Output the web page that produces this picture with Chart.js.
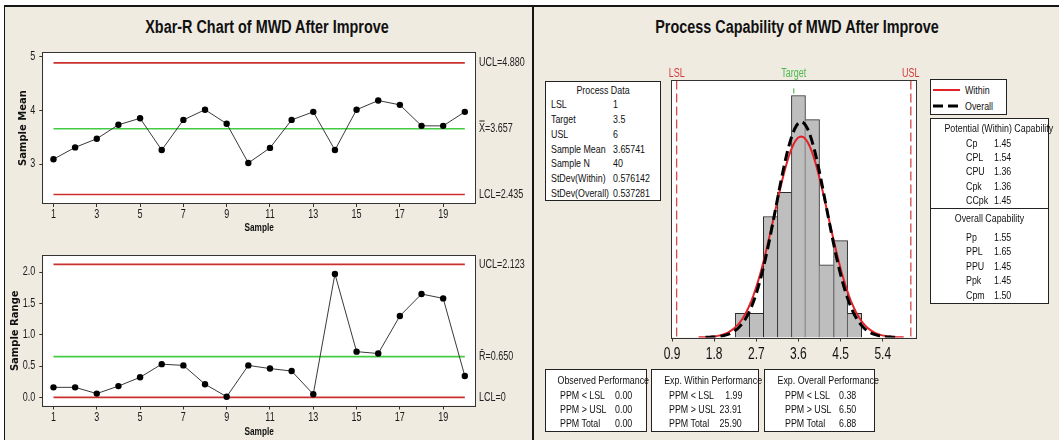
<!DOCTYPE html>
<html>
<head>
<meta charset="utf-8">
<script src="https://cdn.jsdelivr.net/npm/chart.js@4.4.1/dist/chart.umd.min.js"></script>
<style>
  html, body { margin: 0; padding: 0; background: #fff; }
  #page { position: relative; width: 1059px; height: 440px; overflow: hidden; background: #fff; }
  #frame { position: absolute; left: 4px; top: 5px; width: 1055px; height: 435px; background: #EFEBE1;
           border-top: 2px solid #151515; border-left: 1px solid #151515; box-sizing: border-box; }
  #divider { position: absolute; left: 532px; top: 5px; width: 2px; height: 435px; background: #151515; z-index: 5; }
  canvas { position: absolute; }
  .title { position: absolute; transform: translate(-50%, -50%) scaleX(0.8); white-space: nowrap; color: #111;
           font: bold 18px 'Liberation Sans', Arial, sans-serif; }
  .box { position: absolute; box-sizing: border-box; border: 1px solid #222; background: #fff; color: #111;
         font: 11.5px 'Liberation Sans', Arial, sans-serif; }
  .box .r { position: absolute; white-space: nowrap; height: 14px; line-height: 14px;
            transform: scaleX(0.77); transform-origin: left center; }
  .box .r.rt { transform-origin: right center; }
  .box .r.c { left: 0; right: 0; text-align: center; transform-origin: center center; }
  .box .sep { position: absolute; left: 0; right: 0; height: 0; border-top: 1px solid #222; }
</style>
</head>
<body>
<div id="page">
  <div id="frame"></div>
  <div class="title" style="left:267px; top:27px;">Xbar-R Chart of MWD After Improve</div>
  <div class="title" style="left:797px; top:27px;">Process Capability of MWD After Improve</div>
  <div id="divider"></div>
</div>
<script>
// ---- subgroup statistics (20 subgroups of size 2) ----
const sampleNumbers = [1, 2, 3, 4, 5, 6, 7, 8, 9, 10, 11, 12, 13, 14, 15, 16, 17, 18, 19, 20];
const sampleMeans   = [3.09, 3.31, 3.47, 3.73, 3.85, 3.26, 3.82, 4.01, 3.75, 3.02,
                       3.30, 3.82, 3.97, 3.26, 4.01, 4.18, 4.10, 3.71, 3.71, 3.97];
const sampleRanges  = [0.16, 0.16, 0.06, 0.18, 0.32, 0.53, 0.51, 0.21, 0.01, 0.51,
                       0.46, 0.42, 0.05, 1.97, 0.73, 0.70, 1.30, 1.65, 1.58, 0.34];
const sampleTicks   = [1, 3, 5, 7, 9, 11, 13, 15, 17, 19];

// control limits: [upper, centre, lower]
const xbarLimits = [4.880, 3.657, 2.435];
const xbarLimitNames = ['UCL', 'X\u033F', 'LCL'];
const meanTicks = [3, 4, 5];
const rangeLimits = [2.123, 0.650, 0];
const rangeLimitNames = ['UCL', 'R\u0304', 'LCL'];
const rangeTicks = [0, 0.5, 1.0, 1.5, 2.0];

// ---- capability histogram ----
const binMidpoints = [2.4, 2.7, 3.0, 3.3, 3.6, 3.9, 4.2, 4.5, 4.8];
const binCounts    = [1, 1, 5, 6, 10, 9, 3, 4, 1];
const capTicks     = [0.9, 1.8, 2.7, 3.6, 4.5, 5.4];
const LSL = 1, TARGET = 3.5, USL = 6;
const sampleMean = 3.65741, sampleN = 40;
const stdevWithin = 0.576142, stdevOverall = 0.537281;

const potentialRows = [['Cp', '1.45'], ['CPL', '1.54'], ['CPU', '1.36'], ['Cpk', '1.36'], ['CCpk', '1.45']];
const overallRows   = [['Pp', '1.55'], ['PPL', '1.65'], ['PPU', '1.45'], ['Ppk', '1.45'], ['Cpm', '1.50']];
const ppmLabels     = ['PPM < LSL', 'PPM > USL', 'PPM Total'];
const ppmObserved   = ['0.00', '0.00', '0.00'];
const ppmExpWithin  = ['1.99', '23.91', '25.90'];
const ppmExpOverall = ['0.38', '6.50', '6.88'];

// ---- styling ----
const SANS = "'Liberation Sans', Arial, sans-serif";
const WIDE_BOLD = "'DejaVu Sans', sans-serif";
const SQUEEZE = 0.75;            // narrow lettering for canvas text
const RED = '#C9302F', GREEN = '#43CC43', AXIS = '#333';
Chart.defaults.font.family = SANS;
Chart.defaults.color = '#1a1a1a';

// draws canvas text horizontally condensed (axis titles in DejaVu keep their width)
const narrowText = {
  id: 'narrowText',
  beforeInit(chart) {
    const ctx = chart.ctx;
    const fill = ctx.fillText.bind(ctx);
    ctx.fillText = function (str, x, y) {
      if (/DejaVu/.test(ctx.font)) { fill(str, x, y); return; }
      ctx.save();
      ctx.translate(x, y);
      ctx.scale(SQUEEZE, 1);
      fill(str, 0, 0);
      ctx.restore();
    };
  }
};

const page = document.getElementById('page');
function makeCanvas(x, y, w, h) {
  const c = document.createElement('canvas');
  c.width = w; c.height = h;
  c.style.left = x + 'px'; c.style.top = y + 'px';
  c.style.width = w + 'px'; c.style.height = h + 'px';
  page.insertBefore(c, document.getElementById('divider'));
  return c;
}

// white plotting region with a thin frame
const plotBox = {
  id: 'plotBox',
  beforeDraw(chart) {
    const { ctx, chartArea: a } = chart;
    ctx.save();
    ctx.fillStyle = '#fff';
    ctx.fillRect(a.left, a.top, a.right - a.left, a.bottom - a.top);
    ctx.restore();
  },
  afterDraw(chart) {
    const { ctx, chartArea: a } = chart;
    ctx.save();
    ctx.strokeStyle = AXIS;
    ctx.lineWidth = 1;
    ctx.strokeRect(Math.round(a.left) - 0.5, Math.round(a.top) - 0.5,
                   Math.round(a.right - a.left) + 1, Math.round(a.bottom - a.top) + 1);
    ctx.restore();
  }
};

function fmtLimit(v) { return v === 0 ? '0' : v.toFixed(3); }

function controlChart(canvas, o) {
  const first = sampleNumbers[0], last = sampleNumbers[sampleNumbers.length - 1];
  const limitLine = (v, color) => ({
    data: [{ x: first, y: v }, { x: last, y: v }],
    borderColor: color, borderWidth: 1.6, pointRadius: 0, tension: 0
  });
  return new Chart(canvas, {
    type: 'line',
    data: {
      datasets: [
        {
          data: sampleNumbers.map((s, i) => ({ x: s, y: o.values[i] })),
          borderColor: '#3a3a3a', borderWidth: 1, tension: 0,
          pointRadius: 3.2, pointBackgroundColor: '#000', pointBorderWidth: 0
        },
        limitLine(o.limits[0], RED),
        limitLine(o.limits[1], GREEN),
        limitLine(o.limits[2], RED)
      ]
    },
    options: {
      animation: false, responsive: false, devicePixelRatio: 1,
      layout: { padding: { top: o.padTop, left: 0, right: 0, bottom: 0 } },
      plugins: { legend: { display: false }, tooltip: { enabled: false } },
      scales: {
        x: {
          type: 'linear', min: 0.53, max: 20.47,
          afterBuildTicks: s => { s.ticks = sampleTicks.map(v => ({ value: v })); },
          afterFit: s => { s.height = o.xAxisH; },
          ticks: { autoSkip: false, maxRotation: 0, padding: o.xTickPad, font: { size: 12 }, callback: v => String(v) },
          grid: { drawOnChartArea: false, tickLength: 4, color: AXIS },
          border: { display: false },
          title: { display: true, text: 'Sample', color: '#111', font: { size: 11, weight: 'bold' },
                   padding: { top: 0, bottom: o.xTitlePad } }
        },
        y: {
          min: o.yMin, max: o.yMax,
          afterBuildTicks: s => { s.ticks = o.ticks.map(v => ({ value: v })); },
          afterFit: s => { s.width = 43.3; },
          ticks: { autoSkip: false, padding: 4, font: { size: 12 }, callback: o.fmt },
          grid: { drawOnChartArea: false, tickLength: 4, color: AXIS },
          border: { display: false },
          title: { display: true, text: o.yTitle, color: '#111',
                   font: { family: WIDE_BOLD, size: 10, weight: 'bold' },
                   padding: { top: o.yTitlePad, bottom: 0 } }
        },
        y2: {
          position: 'right', min: o.yMin, max: o.yMax,
          afterBuildTicks: s => { s.ticks = o.limits.map(v => ({ value: v })); },
          afterFit: s => { s.width = 533 - 475; },
          ticks: { autoSkip: false, padding: 4, font: { size: 12 }, color: '#222',
                   callback: v => { const i = o.limits.indexOf(v); return o.names[i] + '=' + fmtLimit(v); } },
          grid: { display: false, drawTicks: false },
          border: { display: false }
        }
      }
    },
    plugins: [narrowText, plotBox]
  });
}

controlChart(makeCanvas(0, 40, 533, 200), {
  values: sampleMeans, limits: xbarLimits, names: xbarLimitNames, ticks: meanTicks,
  yMin: 2.277, yMax: 5.063, fmt: v => String(v), yTitle: 'Sample Mean', yTitlePad: 17,
  padTop: 13, xAxisH: 37, xTickPad: 0, xTitlePad: 5.4
});
controlChart(makeCanvas(0, 240, 533, 200), {
  values: sampleRanges, limits: rangeLimits, names: rangeLimitNames, ticks: rangeTicks,
  yMin: -0.13, yMax: 2.257, fmt: v => v.toFixed(1), yTitle: 'Sample Range', yTitlePad: 9,
  padTop: 16, xAxisH: 34.5, xTickPad: 1.3, xTitlePad: 1.9
});

// ---- capability histogram with fitted normal densities ----
const binWidth = binMidpoints[1] - binMidpoints[0];
const capYMax = 10.62;
function densityCurve(mu, sigma) {
  const pts = [];
  const lo = mu - 3.8 * sigma, hi = mu + 3.8 * sigma, n = 120;
  for (let i = 0; i <= n; i++) {
    const x = lo + (hi - lo) * i / n;
    const z = (x - mu) / sigma;
    pts.push({ x, y: sampleN * binWidth * Math.exp(-0.5 * z * z) / (sigma * Math.sqrt(2 * Math.PI)) });
  }
  return pts;
}
const lastBin = binCounts.length - 1;
const barBorder = ctx => {
  const i = ctx.dataIndex;
  return {
    top: 1, bottom: 0,
    left: (i === 0 || binCounts[i - 1] <= binCounts[i]) ? 1 : 0,
    right: (i === lastBin || binCounts[i + 1] < binCounts[i]) ? 1 : 0
  };
};
const specLine = (v, color, dash, offset) => ({
  type: 'line', data: [{ x: v, y: capYMax }, { x: v, y: 0 }],
  borderColor: color, borderWidth: 1.2, borderDash: dash, borderDashOffset: offset || 0, pointRadius: 0
});
const specMarks = [
  { label: 'LSL', value: LSL, color: '#D23A3A' },
  { label: 'Target', value: TARGET, color: '#4DB84D' },
  { label: 'USL', value: USL, color: '#D23A3A' }
];
const specLabels = {
  id: 'specLabels',
  afterDraw(chart) {
    const { ctx, chartArea } = chart, sx = chart.scales.x;
    ctx.save();
    ctx.font = '12px ' + SANS;
    ctx.textAlign = 'center';
    ctx.textBaseline = 'middle';
    specMarks.forEach(m => {
      ctx.fillStyle = m.color;
      ctx.fillText(m.label, sx.getPixelForValue(m.value), chartArea.top - 7);
    });
    ctx.restore();
  }
};

new Chart(makeCanvas(534, 40, 525, 330), {
  type: 'bar',
  data: {
    datasets: [
      { type: 'line', data: densityCurve(sampleMean, stdevOverall), borderColor: '#000', borderWidth: 3,
        borderDash: [10, 5], pointRadius: 0, tension: 0 },
      { type: 'line', data: densityCurve(sampleMean, stdevWithin), borderColor: '#E2232A', borderWidth: 2,
        pointRadius: 0, tension: 0 },
      { type: 'bar', data: binMidpoints.map((m, i) => ({ x: m, y: binCounts[i] })),
        backgroundColor: '#BEBEBE', borderColor: '#2a2a2a', borderWidth: barBorder, borderSkipped: false,
        barPercentage: 1, categoryPercentage: 1 },
      specLine(LSL, '#D23A3A', [9, 4]),
      specLine(USL, '#D23A3A', [9, 4]),
      specLine(TARGET, '#4DB84D', [5, 8], 5)
    ]
  },
  options: {
    animation: false, responsive: false, devicePixelRatio: 1,
    layout: { padding: { top: 40.5, left: 138, right: 143, bottom: 0 } },
    plugins: { legend: { display: false }, tooltip: { enabled: false } },
    scales: {
      x: {
        type: 'linear', min: 0.9, max: 6.11, offset: false,
        afterBuildTicks: s => { s.ticks = capTicks.map(v => ({ value: v })); },
        afterFit: s => { s.height = 32.5; },
        ticks: { autoSkip: false, maxRotation: 0, padding: 3.5, font: { size: 16 }, color: '#111',
                 callback: v => v.toFixed(1) },
        grid: { drawOnChartArea: false, tickLength: 4, color: AXIS, offset: false },
        border: { display: false }
      },
      y: { display: false, min: 0, max: capYMax }
    }
  },
  plugins: [narrowText, plotBox, specLabels]
});

// ---- text tables ----
function box(x, y, w, h) {
  const d = document.createElement('div');
  d.className = 'box';
  Object.assign(d.style, { left: x + 'px', top: y + 'px', width: w + 'px', height: h + 'px' });
  page.appendChild(d);
  return d;
}
function text(parent, str, x, cy, opts) {
  const s = document.createElement('div');
  const center = opts && opts.center;
  const right = opts && opts.right !== undefined;
  s.className = 'r' + (center ? ' c' : '') + (right ? ' rt' : '');
  s.textContent = str;
  s.style.top = (cy - 7) + 'px';
  if (!center) {
    if (right) s.style.right = opts.right + 'px';
    else s.style.left = x + 'px';
  }
  parent.appendChild(s);
}

// process data
const processRows = [
  ['LSL', String(LSL)], ['Target', String(TARGET)], ['USL', String(USL)],
  ['Sample Mean', String(sampleMean)], ['Sample N', String(sampleN)],
  ['StDev(Within)', String(stdevWithin)], ['StDev(Overall)', String(stdevOverall)]
];
const pd = box(544.5, 80.5, 116, 120);
text(pd, 'Process Data', 0, 8, { center: true });
processRows.forEach((r, i) => {
  text(pd, r[0], 5, 22.8 + i * 14.76);
  text(pd, r[1], 67.5, 22.8 + i * 14.76);
});

// legend
const lg = box(930, 79, 77, 35.5);
lg.insertAdjacentHTML('beforeend',
  '<svg width="75" height="34" style="position:absolute;left:0;top:0">' +
  '<line x1="2" y1="10" x2="29" y2="10" stroke="#E2232A" stroke-width="2"/>' +
  '<line x1="2" y1="26" x2="29" y2="26" stroke="#000" stroke-width="3" stroke-dasharray="10,5"/>' +
  '</svg>');
text(lg, 'Within', 34, 10);
text(lg, 'Overall', 34, 26);

// capability indices
const cap = box(930, 117.5, 119, 186);
text(cap, 'Potential (Within) Capability', 0, 9.5, { center: true });
potentialRows.forEach((r, i) => {
  text(cap, r[0], 35, 24.2 + i * 14.33);
  text(cap, r[1], 62.5, 24.2 + i * 14.33);
});
const sep = document.createElement('div');
sep.className = 'sep'; sep.style.top = '89.5px';
cap.appendChild(sep);
text(cap, 'Overall Capability', 0, 99.4, { center: true });
overallRows.forEach((r, i) => {
  text(cap, r[0], 35, 118 + i * 14.5);
  text(cap, r[1], 62.5, 118 + i * 14.5);
});

// ppm performance
const ob = box(544.5, 368.5, 102, 63);
text(ob, 'Observed Performance', 0, 10.5, { center: true });
ppmLabels.forEach((l, i) => { text(ob, l, 14, 25 + i * 14.3); text(ob, ppmObserved[i], 69, 25 + i * 14.3); });

const ew = box(651, 368.5, 108, 63);
text(ew, 'Exp. Within Performance', 0, 10.5, { center: true });
ppmLabels.forEach((l, i) => { text(ew, l, 16.5, 25 + i * 14.3); text(ew, ppmExpWithin[i], 0, 25 + i * 14.3, { right: 16 }); });

const eo = box(763.5, 368.5, 111, 63);
text(eo, 'Exp. Overall Performance', 0, 10.5, { center: true });
ppmLabels.forEach((l, i) => { text(eo, l, 20.5, 25 + i * 14.3); text(eo, ppmExpOverall[i], 74.5, 25 + i * 14.3); });
</script>
</body>
</html>
